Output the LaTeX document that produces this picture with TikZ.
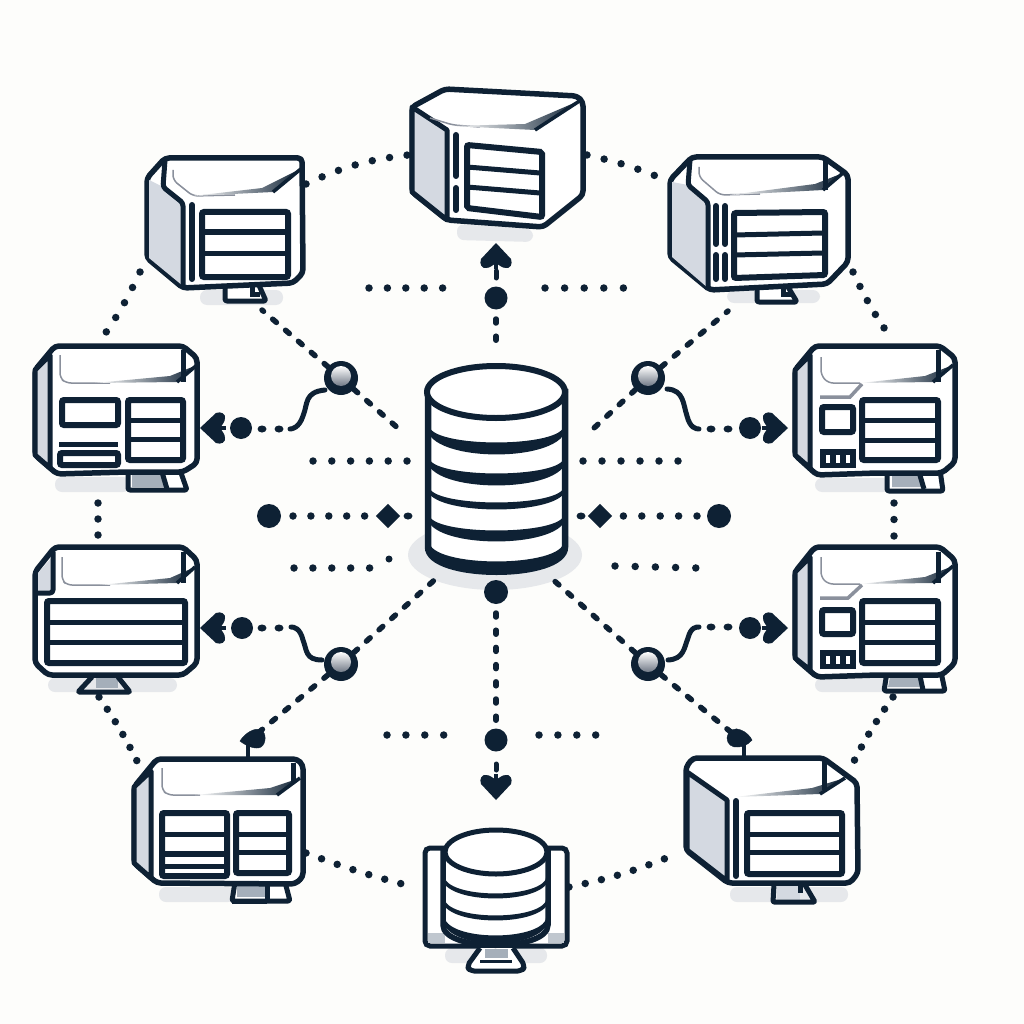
\documentclass[tikz,border=0pt]{standalone}
\usetikzlibrary{calc}
\definecolor{ink}{HTML}{0E2134}
\definecolor{wallgray}{HTML}{D4D9E1}
\definecolor{floorgray}{HTML}{E6E8EB}
\definecolor{standgray}{HTML}{A5AFBA}
\definecolor{creasegray}{HTML}{8A909C}
\definecolor{paper}{HTML}{FDFDFB}
\tikzset{
  shell/.style={draw=ink,fill=white,line width=5.5,rounded corners=4,line join=round},
  sidewall/.style={fill=wallgray,draw=ink,line width=5,line join=round},
  tray/.style={draw=ink,fill=white,line width=6,rounded corners=2},
  slat/.style={draw=ink,line width=5},
  ribline/.style={draw=ink,line width=6,line cap=round},
  seam/.style={draw=ink,line width=5,rounded corners=3,line join=round},
  crease/.style={draw=creasegray,line width=1.5,rounded corners=5},
  floorpad/.style={fill=floorgray,rounded corners=7},
  standleg/.style={draw=ink,fill=white,line width=5,rounded corners=2,line join=round},
  standfill/.style={fill=standgray},
  dotrun/.style={draw=ink,line width=7.5,line cap=round,dash pattern=on 0pt off #1},
  dotrun/.default=18.3pt,
  dashrun/.style={draw=ink,line width=5.5,line cap=round,dash pattern=on 5pt off 12pt},
  hub/.style={circle,fill=ink,minimum size=#1,inner sep=0pt},
  hub/.default=24pt,
  ball/.style={circle,fill=ink,minimum size=34pt,inner sep=0pt},
  jack/.style={draw=ink,line width=5,line cap=round},
  pics/spade/.style={code={
    \fill[ink] (0,-14) -- (15,2) .. controls (17,7) and (14,12) .. (10,11) .. controls (6,11) and (3,8) .. (0,6)
       .. controls (-3,8) and (-6,11) .. (-10,11) .. controls (-14,12) and (-17,7) .. (-15,2) -- cycle;
    \draw[ink,line width=4.5] (0,4) -- (0,12);
  }}
}
% Fading roof edge: a wedge that runs from paper white into the ink colour
\newcommand\roofwedge[4]{%
  \shade[left color=white,right color=ink] #1 -- #2 -- #3 -- #4 -- cycle;
  \draw[ink,line width=3.5,line join=round] #2 -- #3;}
% One crescent of a stacked cylinder
\newcommand\crescent[5]{%
  \filldraw[ink,line width=3,line join=round] ({#1},{#3}) .. controls ({#1},{#3+1.33*#4}) and ({#2},{#3+1.33*#4}) .. ({#2},{#3})
    .. controls ({#2},{#3+1.33*(#4-#5)}) and ({#1},{#3+1.33*(#4-#5)}) .. ({#1},{#3}) -- cycle;}
% Highlight of a junction ball
\newcommand\ballshine[1]{%
  \shade[top color=white,middle color=white,bottom color=creasegray!80!ink] ($(#1)+(0,-2)$) circle (10);}
\begin{document}
\begin{tikzpicture}[x=1pt,y=-1pt]
\useasboundingbox (0,0) rectangle (1024,1024);
\fill[paper] (0,0) rectangle (1024,1024);

% ---------- named ports of the ring and the spokes ----------
\coordinate (T-w) at (408,155);  \coordinate (T-e) at (587,155);
\coordinate (TL-e) at (306,184); \coordinate (TR-w) at (668,181);
\coordinate (TL-s) at (140,272); \coordinate (L1-n) at (100,341);
\coordinate (TR-s) at (853,272); \coordinate (R1-n) at (893,341);
\coordinate (L1-s) at (98,503);  \coordinate (L2-n) at (98,537);
\coordinate (R1-s) at (894,503); \coordinate (R2-n) at (894,537);
\coordinate (L2-s) at (99,697);  \coordinate (BL-n) at (138,763);
\coordinate (R2-s) at (893,697); \coordinate (BR-n) at (853,763);
\coordinate (BL-e) at (306,853); \coordinate (B-w) at (410,886);
\coordinate (B-e) at (569,887);  \coordinate (BR-w) at (669,857);
\coordinate (C-nw) at (400,430); \coordinate (C-ne) at (594,428);
\coordinate (C-sw) at (440,575); \coordinate (C-se) at (550,577);
\coordinate (TL-p) at (262,310); \coordinate (TR-p) at (728,311);
\coordinate (BL-p) at (258,733); \coordinate (BR-p) at (732,733);

% ---------- hubs and junction balls ----------
\node[hub=23pt] (hubT) at (496,298) {};
\node[hub=23pt] (hubB) at (496,740) {};
\node[hub=24pt] (hubW) at (269,516) {};
\node[hub=24pt] (hubE) at (719,516) {};
\node[hub=22pt] (hubL1) at (241,428) {};
\node[hub=22pt] (hubL2) at (242,628) {};
\node[hub=22pt] (hubR1) at (750,428) {};
\node[hub=22pt] (hubR2) at (750,628) {};
\node[ball] (ballTL) at (341,378) {};
\node[ball] (ballTR) at (648,378) {};
\node[ball] (ballBL) at (341,664) {};
\node[ball] (ballBR) at (648,664) {};
\foreach \b in {ballTL,ballTR,ballBL,ballBR} {\ballshine{\b}}

% ---------- dotted outer ring ----------
\draw[dotrun=17.6pt] (TL-e) to[bend left=9] (T-w);
\draw[dotrun=17.6pt] (T-e) to[bend left=5] (TR-w);
\draw[dotrun=17.2pt] (TL-s) to[bend left=5] (L1-n);
\draw[dotrun=16pt] (TR-s) to[bend right=5] (R1-n);
\draw[dotrun=16pt] (L1-s) -- (L2-n);
\draw[dotrun=16.5pt] (R1-s) -- (R2-n);
\draw[dotrun=14.8pt] (L2-s) to[bend left=4] (BL-n);
\draw[dotrun=14.8pt] (R2-s) to[bend right=4] (BR-n);
\draw[dotrun=16.6pt] (BL-e) to[bend right=3] (B-w);
\draw[dotrun=16.6pt] (B-e) to[bend right=5] (BR-w);

% ---------- central storage floor, under the bars that reach it ----------
\fill[floorgray] (495,555) ellipse (87 and 35);

% ---------- dotted crossbars ----------
\coordinate (a1) at (369,288); \coordinate (a2) at (443,288);
\coordinate (a3) at (545,288); \coordinate (a4) at (624,288);
\draw[dotrun=18.4pt] (a1) -- (a2);
\draw[dotrun=19.6pt] (a3) -- (a4);
\coordinate (b1) at (313,461); \coordinate (b2) at (408,461);
\coordinate (b3) at (583,461); \coordinate (b4) at (679,461);
\draw[dotrun=18.8pt] (b1) -- (b2);
\draw[dotrun=19pt] (b3) -- (b4);
\coordinate (c1) at (294,568); \coordinate (c2) at (371,568);
\coordinate (c3) at (615,566); \coordinate (c4) at (697,568);
\draw[dotrun=18.9pt] (c1) -- (c2);
\draw[dotrun=20.2pt] (c3) -- (c4);
\node[fill=ink,circle,minimum size=7pt,inner sep=0pt] (c5) at (389,559) {};
\coordinate (e1) at (387,735); \coordinate (e2) at (444,735);
\coordinate (e3) at (539,735); \coordinate (e4) at (597,735);
\draw[dotrun=18.9pt] (e1) -- (e2);
\draw[dotrun=18.9pt] (e3) -- (e4);
\node[fill=ink,minimum size=17pt,inner sep=0pt,rotate=45] (diaW) at (388,516) {};
\node[fill=ink,minimum size=17pt,inner sep=0pt,rotate=45] (diaE) at (600,516) {};
\draw[dotrun=17.9pt] ($(hubW)+(24,0)$) -- ($(diaW)+(-23,0)$);
\draw[dotrun=18.4pt] ($(hubE)+(-22,0)$) -- ($(diaE)+(23,0)$);
\fill[ink] (408,516) ellipse (4.5 and 3.5);
\fill[ink] (581,516) ellipse (4.5 and 3.5);

% ---------- dashed spokes ----------
\draw[dashrun] (ballTL) -- (C-nw);
\draw[dashrun] (ballTL) -- (TL-p);
\draw[dashrun] (ballTR) -- (C-ne);
\draw[dashrun] (ballTR) -- (TR-p);
\draw[dashrun] (ballBL) -- (C-sw);
\draw[dashrun] (ballBL) -- (BL-p);
\draw[dashrun] (ballBR) -- (C-se);
\draw[dashrun] (ballBR) -- (BR-p);
\node[hub=24pt] (hubS) at (496,592) {};
\coordinate (S-a) at (496,613); \coordinate (S-b) at (496,722);
\draw[dashrun,dash pattern=on 4pt off 13.2pt] (S-a) -- (S-b);
\coordinate (T-a) at (496,319); \coordinate (T-b) at (496,343);
\draw[dashrun,dash pattern=on 4pt off 13.2pt] (T-a) -- (T-b);
\draw[ink,line width=5,line cap=round] (496,764) -- (496,770);
\draw[ink,line width=5,line cap=round] (496,271) -- (496,278);

% ---------- arrowheads ----------
\pic at (496,257) {spade};
\pic[rotate=180] at (496,786) {spade};
\pic[rotate=90] at (214,428) {spade};
\pic[rotate=90] at (214,628) {spade};
\pic[rotate=-90] at (774,428) {spade};
\pic[rotate=-90] at (774,628) {spade};

% ---------- curved tails between balls and arrows ----------
\draw[jack] (325,390) .. controls (304,392) and (308,404) .. (303,416) .. controls (299,428) and (292,429) .. (290,429);
\fill[ink] (262,429) ellipse (4.5 and 3.5); \fill[ink] (279,429) ellipse (4.5 and 3.5);
\draw[jack] (322,660) .. controls (305,660) and (307,650) .. (303,640) .. controls (300,628) and (294,627) .. (291,627);
\fill[ink] (262,628) ellipse (4.5 and 3.5); \fill[ink] (279,628) ellipse (4.5 and 3.5);
\draw[jack] (667,389) .. controls (684,390) and (683,404) .. (687,416) .. controls (690,428) and (696,429) .. (699,429);
\fill[ink] (711,429) ellipse (4.5 and 3.5); \fill[ink] (728,429) ellipse (4.5 and 3.5);
\draw[jack] (668,660) .. controls (684,659) and (684,648) .. (688,638) .. controls (691,627) and (696,627) .. (699,627);
\fill[ink] (711,627) ellipse (4.5 and 3.5); \fill[ink] (728,627) ellipse (4.5 and 3.5);

% ---------- central storage cylinder ----------
\filldraw[fill=white,draw=ink,line width=6.5] (428,392) -- (428,547) .. controls (428,580) and (565,580) .. (565,547) -- (565,392) -- cycle;
\crescent{428}{565}{426}{27}{9}
\crescent{428}{565}{458}{26}{9}
\crescent{428}{565}{487}{21}{4}
\crescent{428}{565}{515}{25}{8}
\crescent{428}{565}{542}{30}{9}
\filldraw[fill=white,draw=ink,line width=6] (496,392) ellipse (69 and 26);

% ---------- top server ----------
\fill[floorpad] (457,224) -- (533,229) -- (533,242) -- (457,240) -- cycle;
\draw[shell] (412,107) -- (445,89) -- (577,96) -- (583,102) -- (583,195) -- (543,227) -- (447,220) -- (412,192) -- cycle;
\draw[sidewall] (412,107) -- (447,130) -- (447,220) -- (412,192) -- cycle;
\draw[crease] (430,118) -- (453,125) -- (480,127);
\roofwedge{(453,126)}{(535,130)}{(581,100)}{(525,124)}
\draw[ribline] (456,135) -- (456,176);
\draw[ribline] (456,188) -- (456,210);
\draw[tray] (467,145) -- (542,152) -- (542,217) -- (467,208) -- cycle;
\draw[slat] (467,167) -- (540,173);
\draw[slat] (467,187) -- (540,193);

% ---------- upper left server ----------
\fill[floorpad] (200,290) rectangle (283,305);
\draw[standleg] (225,286) -- (225,301) -- (266,301) -- (258,283);
\draw[ink,line width=5] (252,285) -- (252,294) -- (260,294);
\draw[shell] (147,178) -- (165,158) -- (302,158) -- (303,273) -- (293,283) -- (183,288) -- (147,258) -- cycle;
\fill[wallgray] (149,180) -- (163,187) -- (183,203) -- (183,286) -- (149,258) -- cycle;
\draw[seam] (165,160) -- (163,187) -- (183,203) -- (183,288);
\draw[crease] (173,170) -- (173,180) -- (193,196) -- (235,195);
\roofwedge{(193,196)}{(273,192)}{(302,168)}{(262,188)}
\draw[ribline] (192,205) -- (192,279);
\draw[tray] (202,212) rectangle (288,277);
\draw[slat] (202,232) -- (288,232);
\draw[slat] (202,253) -- (288,253);

% ---------- upper right server ----------
\fill[floorpad] (727,290) rectangle (820,303);
\draw[standleg] (757,288) -- (757,302) -- (797,302) -- (788,287);
\draw[ink,line width=5] (783,288) -- (783,294) -- (791,294);
\draw[shell] (670,180) -- (692,157) -- (823,157) -- (848,175) -- (848,262) -- (827,284) -- (710,290) -- (670,257) -- cycle;
\fill[wallgray] (672,182) -- (688,185) -- (708,202) -- (708,288) -- (672,257) -- cycle;
\draw[seam] (690,160) -- (688,185) -- (708,202) -- (708,290);
\draw[crease] (699,167) -- (699,177) -- (720,195) -- (760,194);
\roofwedge{(730,195)}{(823,190)}{(843,173)}{(815,184)}
\draw[seam] (825,160) -- (825,190);
\draw[ribline] (716,206) -- (716,244);
\draw[ribline] (725,206) -- (725,244);
\draw[ribline] (716,255) -- (716,279);
\draw[ribline] (725,255) -- (725,279);
\draw[tray] (734,213) -- (825,212) -- (825,275) -- (734,278) -- cycle;
\draw[slat] (734,235) -- (823,233);
\draw[slat] (734,255) -- (823,253);

% ---------- middle left server, split panels ----------
\fill[floorpad] (55,477) rectangle (130,492);
\draw[standleg] (128,470) -- (128,490) -- (187,490) -- (180,470);
\fill[standfill] (132,473) -- (161,473) -- (164,487) -- (132,487) -- cycle;
\draw[ink,line width=5] (162,472) -- (167,489);
\draw[shell] (35,370) -- (55,346) -- (183,346) -- (197,358) -- (197,463) -- (183,472) -- (127,472) -- (57,474) -- (35,455) -- cycle;
\draw[sidewall] (35,370) -- (50,355) -- (50,468) -- (35,455) -- cycle;
\draw[crease] (60,355) -- (60,378) -- (66,383) -- (110,383);
\roofwedge{(95,383)}{(177,382)}{(197,365)}{(170,376)}
\draw[seam] (183,350) -- (183,382);
\draw[tray] (62,400) rectangle (118,425);
\draw[slat] (59,444) -- (118,444);
\draw[tray] (60,453) rectangle (118,465);
\draw[tray] (128,400) rectangle (183,460);
\draw[slat] (128,420) -- (183,420);
\draw[slat] (128,439) -- (183,439);

% ---------- lower left server, single panel ----------
\fill[floorpad] (48,678) rectangle (177,692);
\fill[standfill] (96,677) rectangle (118,688);
\draw[ink,line width=5,line join=round,rounded corners=1] (92,677) -- (78,692) -- (130,692) -- (118,677);
\draw[shell] (35,572) -- (55,547) -- (183,547) -- (197,560) -- (197,663) -- (183,675) -- (48,675) -- (35,663) -- cycle;
\fill[wallgray] (38,573) -- (53,556) -- (53,592) -- (38,592) -- cycle;
\draw[seam] (53,552) -- (53,593) -- (38,593);
\draw[crease] (62,557) -- (62,580) -- (67,585) -- (110,585);
\roofwedge{(100,585)}{(177,583)}{(195,567)}{(170,578)}
\draw[seam] (183,552) -- (183,583);
\draw[tray] (47,601) rectangle (185,663);
\draw[slat] (47,622) -- (185,622);
\draw[slat] (47,642) -- (185,642);

% ---------- middle right server ----------
\fill[floorpad] (815,478) rectangle (890,492);
\draw[standleg] (887,470) -- (887,491) -- (943,491) -- (940,470);
\fill[standfill] (892,473) -- (918,473) -- (922,487) -- (892,487) -- cycle;
\draw[ink,line width=5] (919,472) -- (924,489);
\draw[shell] (795,370) -- (815,346) -- (940,346) -- (955,358) -- (955,462) -- (942,473) -- (877,473) -- (817,475) -- (795,455) -- cycle;
\draw[sidewall] (795,370) -- (810,355) -- (810,468) -- (795,455) -- cycle;
\draw[crease] (821,357) -- (821,375) -- (828,383) -- (860,383);
\roofwedge{(860,383)}{(933,382)}{(953,365)}{(925,376)}
\draw[seam] (938,350) -- (938,382);
\draw[draw=creasegray,line width=3.5] (820,397) -- (850,397) -- (862,384);
\draw[tray] (822,407) rectangle (853,432);
\fill[ink] (820,449) rectangle (856,468);
\fill[white] (826,455) rectangle (830,463);
\fill[white] (836,455) rectangle (840,463);
\fill[white] (846,455) rectangle (850,463);
\draw[tray] (862,400) rectangle (938,460);
\draw[slat] (862,420) -- (938,420);
\draw[slat] (862,440) -- (938,440);

% ---------- lower right server ----------
\fill[floorpad] (815,678) rectangle (890,692);
\draw[standleg] (887,672) -- (884,691) -- (945,691) -- (941,672);
\fill[standfill] (890,677) -- (920,677) -- (923,687) -- (888,687) -- cycle;
\draw[ink,line width=5] (920,676) -- (923,690);
\draw[shell] (795,572) -- (815,547) -- (940,547) -- (955,560) -- (955,663) -- (942,675) -- (877,675) -- (817,677) -- (795,658) -- cycle;
\draw[sidewall] (795,572) -- (810,557) -- (810,670) -- (795,658) -- cycle;
\draw[crease] (821,557) -- (821,577) -- (828,584) -- (860,584);
\roofwedge{(860,584)}{(933,583)}{(953,566)}{(925,577)}
\draw[seam] (938,552) -- (938,583);
\draw[draw=creasegray,line width=3.5] (820,598) -- (848,598) -- (862,585);
\draw[tray] (822,610) rectangle (853,634);
\fill[ink] (820,650) rectangle (856,669);
\fill[white] (826,656) rectangle (830,664);
\fill[white] (836,656) rectangle (840,664);
\fill[white] (846,656) rectangle (850,664);
\draw[tray] (862,601) rectangle (938,663);
\draw[slat] (862,622) -- (938,622);
\draw[slat] (862,642) -- (938,642);

% ---------- bottom left server ----------
\fill[floorpad] (159,887) rectangle (235,902);
\draw[standleg] (235,882) -- (232,901) -- (290,901) -- (285,882);
\fill[standfill] (237,885) rectangle (265,897);
\draw[ink,line width=5] (267,884) -- (267,901);
\draw[ink,line width=5] (232,901) -- (267,901);
\draw[shell] (134,787) -- (157,759) -- (297,759) -- (303,765) -- (303,877) -- (295,884) -- (157,883) -- (134,863) -- cycle;
\draw[sidewall] (134,787) -- (151,771) -- (151,878) -- (134,863) -- cycle;
\draw[crease] (162,768) -- (162,790) -- (168,795) -- (200,795);
\roofwedge{(195,795)}{(277,795)}{(300,778)}{(270,788)}
\draw[seam] (293,763) -- (293,782);
\draw[tray] (162,813) rectangle (227,876);
\draw[slat] (162,834) -- (227,834);
\draw[ink,line width=6] (162,854) -- (227,854);
\draw[slat] (162,866) -- (227,866);
\draw[tray] (236,813) rectangle (289,873);
\draw[slat] (236,834) -- (289,834);
\draw[slat] (236,852) -- (289,852);
\filldraw[ink] (240,741) .. controls (245,733) and (255,727) .. (261,730) .. controls (267,733) and (266,744) .. (261,747) .. controls (256,750) and (246,746) .. (240,741) -- cycle;
\draw[ink,line width=4.5] (248,744) -- (248,759);

% ---------- bottom right server ----------
\fill[floorpad] (730,887) rectangle (848,902);
\fill[wallgray] (777,885) rectangle (800,900);
\draw[ink,line width=5,line join=round,rounded corners=1] (774,884) -- (773,902) -- (815,902) -- (805,885);
\draw[ink,line width=5] (800,882) -- (800,893);
\draw[shell] (686,767) -- (693,758) -- (823,758) -- (857,783) -- (858,873) -- (850,883) -- (728,883) -- (686,850) -- cycle;
\draw[sidewall] (687,772) -- (727,800) -- (727,881) -- (687,850) -- cycle;
\roofwedge{(735,797)}{(820,794)}{(845,778)}{(812,788)}
\draw[seam] (824,760) -- (824,790);
\draw[ribline] (736,801) -- (736,876);
\draw[tray] (747,813) rectangle (842,874);
\draw[slat] (747,834) -- (842,834);
\draw[slat] (747,852) -- (842,852);
\filldraw[ink] (727,738) .. controls (728,730) and (735,727) .. (741,730) .. controls (746,732) and (750,736) .. (752,740) .. controls (748,745) and (742,747) .. (738,747) .. controls (732,748) and (727,744) .. (727,738) -- cycle;
\draw[ink,line width=4.5] (744,744) -- (744,759);

% ---------- bottom storage unit ----------
\fill[floorpad] (445,948) rectangle (547,963);
\draw[draw=ink,line width=5,fill=white,rounded corners=5] (425,848) rectangle (567,946);
\fill[standgray!70] (428,933) rectangle (445,943);
\fill[standgray!70] (548,933) rectangle (564,943);
\draw[draw=ink,line width=5,line join=round,rounded corners=4,fill=white] (480,948) -- (467,966) -- (470,971) -- (522,971) -- (525,966) -- (513,948);
\fill[standgray] (485,949) rectangle (508,958);
\draw[ink,line width=3] (480,961) -- (512,961);
\filldraw[fill=white,draw=ink,line width=5.5] (443,852) -- (443,925) .. controls (443,952) and (548,952) .. (548,925) -- (548,852) -- cycle;
\crescent{443}{548}{876}{21}{2}
\crescent{443}{548}{898}{21}{2}
\crescent{443}{548}{916}{26}{5}
\filldraw[fill=white,draw=ink,line width=5] (496,852) ellipse (51 and 22);
\end{tikzpicture}
\end{document}
